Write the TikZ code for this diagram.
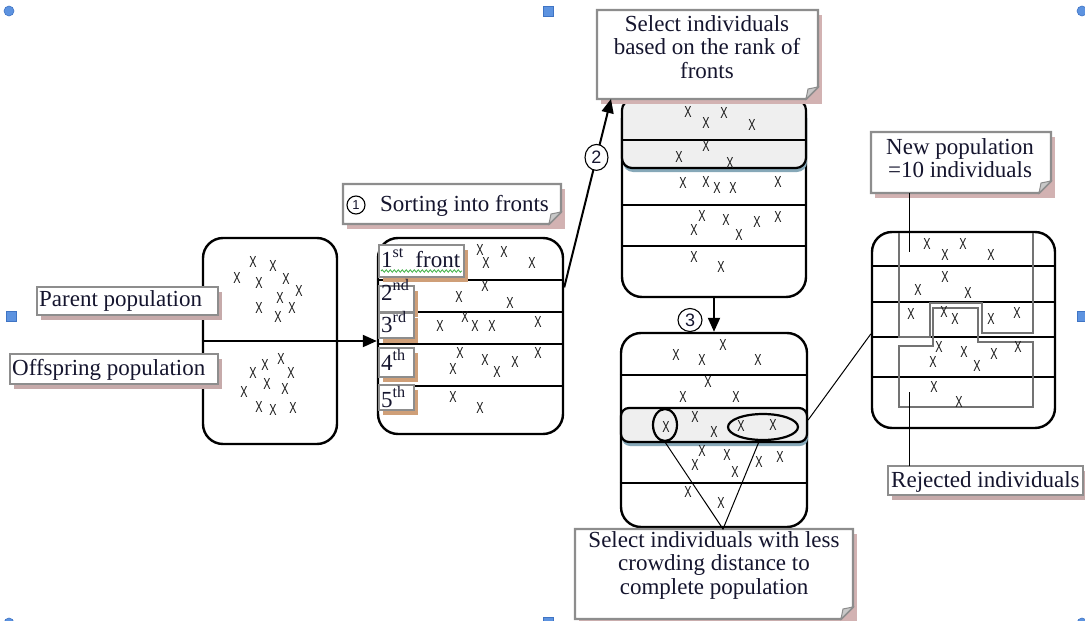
\documentclass[tikz,border=0pt]{standalone}
\usepackage{fontspec}
\setmainfont{Liberation Serif}
\newfontfamily\sansfam{Liberation Sans}
\usetikzlibrary{calc,arrows.meta,shapes.geometric,shadows,decorations.pathmorphing}

\definecolor{inkc}{HTML}{15152E}
\definecolor{frameg}{HTML}{8D8D8D}
\definecolor{shpink}{HTML}{C6AAAA}
\definecolor{shorange}{HTML}{CF9F78}
\definecolor{notesh}{HTML}{D2B2B2}
\definecolor{foldg}{HTML}{C8C8C8}
\definecolor{hlfill}{HTML}{EFEFEF}
\definecolor{hlsh}{HTML}{86A8B8}
\definecolor{handlefill}{HTML}{5D93E0}
\definecolor{handleline}{HTML}{3F74C4}
\definecolor{spellg}{HTML}{3CB043}

% one population member
\newcommand\popx{\scalebox{0.68}[1]{X}}

% callout frame with a folded lower right corner: name, top left, bottom right
\newcommand\noteframe[3]{%
  \coordinate (#1-nw) at (#2);
  \coordinate (#1-se) at (#3);
  \fill[notesh] ($(#1-nw)+(4,5)$) rectangle ($(#1-se)+(4,5)$);
  \filldraw[noteline] (#1-nw) -- (#1-nw -| #1-se) -- ($(#1-se)+(0,-12)$)
     -- ($(#1-se)+(-12,0)$) -- (#1-nw |- #1-se) -- cycle;
  \filldraw[notefold] ($(#1-se)+(0,-12)$) -- ($(#1-se)+(-12,0)$)
     -- ($(#1-se)+(-10,-10)$) -- cycle;
}
% plain label frame with a drop shadow: name, top left, bottom right, shadow colour
\newcommand\tagframe[4]{%
  \coordinate (#1-nw) at (#2);
  \coordinate (#1-se) at (#3);
  \fill[#4] ($(#1-nw)+(4,5)$) rectangle ($(#1-se)+(4,5)$);
  \filldraw[noteline] (#1-nw) rectangle (#1-se);
}

\begin{document}
\begin{tikzpicture}[x=1pt,y=-1pt,
  popbox/.style={draw, line width=2.4pt, rounded corners=20pt, inner sep=0pt},
  row/.style={line width=1.4pt},
  crs/.style={inner sep=0pt, text=black!90, font=\sansfam\fontsize{16}{16}\selectfont},
  noteline/.style={fill=white, draw=frameg, line width=2.2pt},
  notefold/.style={fill=foldg, draw=frameg, line width=1pt},
  txt/.style={inner sep=0pt, text=inkc, font=\fontsize{23}{23.5}\selectfont},
  arr/.style={line width=2pt, -{Triangle[length=14pt,width=12pt]}},
  lnk/.style={line width=1pt},
  hl/.style={draw, line width=2.2pt, rounded corners=10pt, fill=hlfill, inner sep=0pt,
    drop shadow={fill=hlsh, opacity=1, shadow xshift=1pt, shadow yshift=-4pt}},
  ring/.style={ellipse, draw, line width=2.2pt, inner sep=0pt},
  num/.style={ellipse, draw, line width=1.1pt, fill=white, inner sep=0pt, text=inkc,
    font=\sansfam\fontsize{18}{18}\selectfont},
  selline/.style={draw=black!55, line width=1.6pt},
  handle/.style={fill=handlefill, draw=handleline, line width=0.6pt}]

\useasboundingbox (0,0) rectangle (1085,621);
\clip (0,0) rectangle (1085,621);

% frame handles
\foreach \hx/\hy in {9/11,1082/11,9/623,1082/623}
  \filldraw[handle] (\hx,\hy) circle (5);
\foreach \hx/\hy in {548/11,548/622,11/316,1082/316}
  \filldraw[handle] (\hx-5,\hy-5) rectangle (\hx+5,\hy+5);

% population boxes
\node[popbox, minimum width=134pt, minimum height=206pt] (pop) at (270,341) {};
\node[popbox, minimum width=185pt, minimum height=196pt] (fronts) at (470.5,336) {};
\node[popbox, minimum width=184pt, minimum height=197pt] (sel) at (714,198.5) {};
\node[popbox, minimum width=186pt, minimum height=194pt] (crowd) at (714,430) {};
\node[popbox, minimum width=183pt, minimum height=196pt] (newp) at (963.5,330) {};

% highlighted fronts
\node[hl, minimum width=184pt, minimum height=68pt] (hl3) at (714,134) {};
\node[hl, minimum width=186pt, rounded corners=8pt, minimum height=34pt] (hl4) at (714,425) {};

% rows of the fronts
\draw[row] (pop.west) -- (pop.east);
\foreach \y in {280,312,344,386}
  \draw[row] (fronts.west |- 0,\y) -- (fronts.east |- 0,\y);
\foreach \y in {140,205,246}
  \draw[row] (sel.west |- 0,\y) -- (sel.east |- 0,\y);
\foreach \y in {375,483}
  \draw[row] (crowd.west |- 0,\y) -- (crowd.east |- 0,\y);
\foreach \y in {266,302,337,377}
  \draw[row] (newp.west |- 0,\y) -- (newp.east |- 0,\y);

% kept and rejected regions of the new population
\draw[selline] (899,233) -- (899,337) -- (930,337) -- (930,303) -- (982,303)
  -- (982,333) -- (1033,333) -- (1033,233);
\draw[selline] (933,308) -- (978,308) -- (978,342) -- (1033,342) -- (1033,407)
  -- (899,407) -- (899,346) -- (933,346) -- cycle;

% individuals
\foreach \x/\y [count=\i] in {237/278,253/262,273/266,259/283,286/279,299/291,280/298,
  259/308,292/308,278/317,281/359,265/365,253/373,291/373,267/384,285/389,244/392,
  259/407,273/410,293/408}
  \node[crs] (pa\i) at (\x,\y) {\popx};
\foreach \x/\y [count=\i] in {480/250,486/263,504/252,532/263,485/286,459/297,510/303,
  440/326,465/317,475/326,492/326,538/322,460/353,453/369,485/360,497/372,515/362,
  538/353,453/397,480/408}
  \node[crs] (fr\i) at (\x,\y) {\popx};
\foreach \x/\y [count=\i] in {688/112,706/123,724/113,752/125,706/146,679/157,730/163,
  683/183,706/182,717/188,733/188,778/182,702/216,694/230,726/220,739/235,757/222,
  778/217,694/257,721/267}
  \node[crs] (se\i) at (\x,\y) {\popx};
\foreach \x/\y [count=\i] in {723/345,676/355,702/360,758/360,708/382,683/397,736/397,
  695/417,666/427,714/432,741/426,773/425,702/451,727/455,695/465,735/472,759/462,
  780/457,688/492,721/503}
  \node[crs] (cr\i) at (\x,\y) {\popx};
\foreach \x/\y [count=\i] in {927/244,945/255,963/244,991/255,945/277,918/290,968/293,
  911/314,944/312,955/319,991/319,1017/313,939/347,933/362,964/352,977/366,994/354,
  1018/347,934/387,959/402}
  \node[crs] (np\i) at (\x,\y) {\popx};

% individuals picked by crowding distance
\node[ring, minimum width=24pt, minimum height=32pt] (r1) at (665,425) {};
\node[ring, minimum width=70pt, minimum height=26pt] (r2) at (763,427) {};

% steps
\coordinate (a2s) at ($(fronts.north east)!0.255!(fronts.south east)$);
\draw[arr] (pop.east) -- (pop.east -| fronts.west);
\noteframe{sel1}{597,10}{818,99}
\node[txt, align=center] (sel1t) at (707,47) {Select individuals\\based on the rank of\\fronts};
\draw[arr] (a2s) -- node[num, minimum width=23pt, minimum height=26pt, pos=0.69] (c2) {2}
  ($(sel1-nw |- sel1-se)+(14,0)$);
\draw[arr] (sel.south) -- (crowd.north);
\node[num, minimum width=24pt, minimum height=23pt] (c3) at (690,320) {3};

% callouts
\noteframe{sortc}{343,184}{561,224}
\node[num, minimum size=18pt, font=\sansfam\fontsize{13}{13}\selectfont] (c1) at (356,205) {1};
\node[txt, anchor=base west] (sortt) at (380,211) {Sorting into fronts};

\noteframe{sel2}{575,529}{853,619}
\node[txt, align=center] (sel2t) at (714,565) {Select individuals with less\\crowding distance to\\complete population};
\coordinate (meet) at ($(sel2-nw)+(148,0)$);
\draw[lnk] (r1.south) -- (meet) -- (r2.255);
\draw[lnk] ($(hl4.east)+(0,-5)$) -- ($(newp.north west)!0.52!(newp.south west)$);

\noteframe{npc}{871,132}{1051,193}
\node[txt, align=center] (npt) at (960,158) {New population\\=10 individuals};
\coordinate (npin) at (909,252);
\draw[lnk] (npin |- npc-se) -- (npin);

\tagframe{rej}{888,466}{1083,495}{shpink}
\node[txt, anchor=base west] (rejt) at (891,487) {Rejected individuals};
\coordinate (rejin) at (909,392);
\draw[lnk] (rejin |- rej-nw) -- (rejin);

% population labels
\tagframe{par}{37,287}{218,315}{shpink}
\node[txt, anchor=base west] (part) at (39,306) {Parent population};
\tagframe{off}{10,354}{218,384}{shpink}
\node[txt, anchor=base west] (offt) at (12,375) {Offspring population};

% front labels
\tagframe{f1}{379,245}{464,277}{shorange}
\node[txt, anchor=base west] (f1t) at (381,267) {1\textsuperscript{st}\ \ front};
\draw[spellg, line width=0.8pt, decorate, decoration={snake, amplitude=1.2pt, segment length=4pt}]
  (381,271) -- (462,271);
\tagframe{f2}{379,286}{414,312}{shorange}
\node[txt, anchor=base west] (f2t) at (381,300) {2\textsuperscript{nd}};
\tagframe{f3}{379,313}{414,338}{shorange}
\node[txt, anchor=base west] (f3t) at (381,332) {3\textsuperscript{rd}};
\tagframe{f4}{379,348}{414,377}{shorange}
\node[txt, anchor=base west] (f4t) at (381,370) {4\textsuperscript{th}};
\tagframe{f5}{379,385}{414,410}{shorange}
\node[txt, anchor=base west] (f5t) at (381,407) {5\textsuperscript{th}};

\end{tikzpicture}
\end{document}
